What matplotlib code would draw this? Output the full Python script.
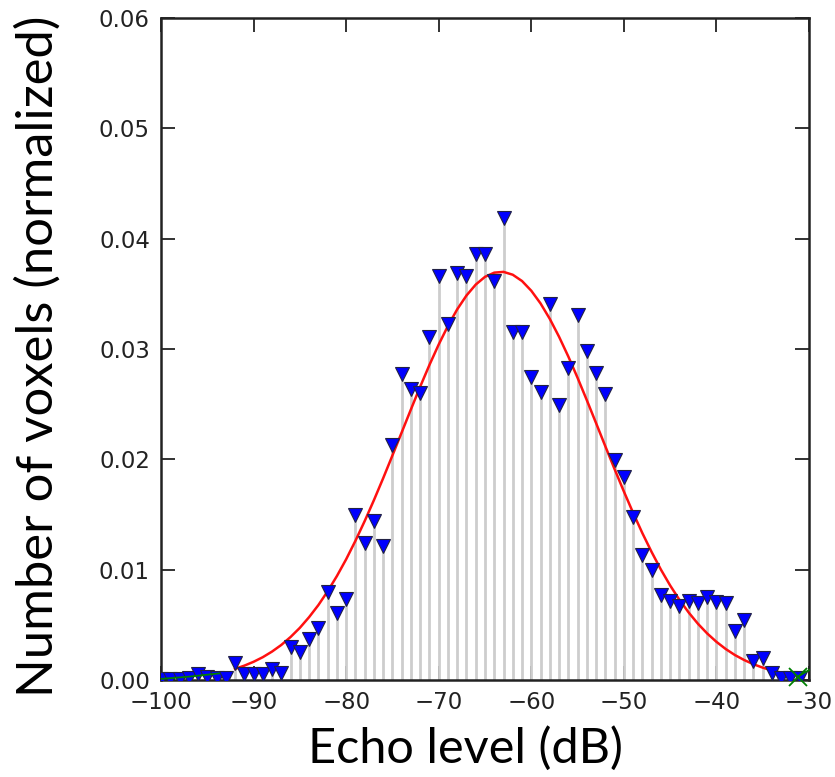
import matplotlib
matplotlib.use("Agg")
import matplotlib.pyplot as plt
import numpy as np

# histogram of echo levels (1 dB bins)
echo_db = list(range(-100, -30))
voxels = [0.0001, 0.0001, 0.0001, 0.0002, 0.0005, 0.0003, 0.0002, 0.0002, 0.0015, 0.0005,
          0.0005, 0.0005, 0.0010, 0.0006, 0.0030, 0.0025, 0.0037, 0.0047, 0.0080, 0.0061,
          0.0073, 0.0150, 0.0124, 0.0144, 0.0121, 0.0213, 0.0277, 0.0264, 0.0260, 0.0311,
          0.0366, 0.0323, 0.0369, 0.0366, 0.0386, 0.0386, 0.0362, 0.0419, 0.0315, 0.0315,
          0.0275, 0.0261, 0.0341, 0.0249, 0.0283, 0.0331, 0.0298, 0.0278, 0.0259, 0.0199,
          0.0184, 0.0148, 0.0113, 0.0100, 0.0077, 0.0072, 0.0067, 0.0072, 0.0070, 0.0075,
          0.0071, 0.0070, 0.0044, 0.0054, 0.0017, 0.0020, 0.0006, 0.0002, 0.0002, 0.0002]

# fitted curve (red), read at 1 dB steps
fit_db = list(range(-92, -32))
fit_val = [0.00101, 0.00130, 0.00165, 0.00207, 0.00258, 0.00318, 0.00390, 0.00473, 0.00570, 0.00679,
           0.00804, 0.00942, 0.01094, 0.01261, 0.01440, 0.01630, 0.01829, 0.02035, 0.02244, 0.02453,
           0.02659, 0.02856, 0.03041, 0.03210, 0.03360, 0.03485, 0.03584, 0.03654, 0.03692, 0.03699,
           0.03673, 0.03616, 0.03528, 0.03413, 0.03273, 0.03111, 0.02932, 0.02739, 0.02536, 0.02328,
           0.02118, 0.01911, 0.01709, 0.01515, 0.01331, 0.01160, 0.01001, 0.00857, 0.00727, 0.00612,
           0.00510, 0.00422, 0.00346, 0.00281, 0.00226, 0.00181, 0.00143, 0.00112, 0.00087, 0.00067]

# green tails poking out at the edges
tail_left_db = [-100, -97, -93.7]
tail_left_val = [0.0001, 0.0003, 0.0006]
tail_right_db = [-31.2, -30]
tail_right_val = [0.0003, 0.0009]

fig = plt.figure(figsize=(8.35, 7.77), dpi=100)
ax = fig.add_axes([161/835, 1-680/777, 648/835, 662/777])

markerline, stemlines, baseline = ax.stem(echo_db, voxels, basefmt=" ")
plt.setp(stemlines, color="#cdcdcd", linewidth=2.0, zorder=2)
plt.setp(markerline, marker="v", markersize=10, markerfacecolor="#0000ff",
         markeredgecolor="#222244", markeredgewidth=0.8, zorder=4)

ax.plot(fit_db, fit_val, color="#ff1010", lw=1.8, zorder=3)

ax.plot(tail_left_db, tail_left_val, color="green", lw=1.3, zorder=5)
ax.plot(tail_right_db, tail_right_val, color="green", lw=1.3, marker="x", markersize=13,
        markeredgewidth=1.3, markevery=[0], zorder=5, clip_on=False)

ax.set_xlim(-100, -30)
ax.set_ylim(0, 0.06)
ax.set_xticks(np.arange(-100, -29, 10))
ax.set_yticks(np.arange(0, 0.061, 0.01))
ax.set_yticklabels([f"{v:.2f}" for v in np.arange(0, 0.061, 0.01)])
ax.tick_params(direction="in", length=10, width=1.3, labelsize=16.5, top=True, right=True,
               pad=8, colors="#222222")
for s in ax.spines.values():
    s.set_linewidth(1.8)
    s.set_color("#222222")

fig.text(0.557, 0.037, "Echo level (dB)", ha="center", va="center", fontsize=35,
         family="Lato")
fig.text(0.046, 0.541, "Number of voxels (normalized)", ha="center", va="center",
         fontsize=36.5, family="Lato", rotation=90)

fig.savefig("out.png", dpi=100)
